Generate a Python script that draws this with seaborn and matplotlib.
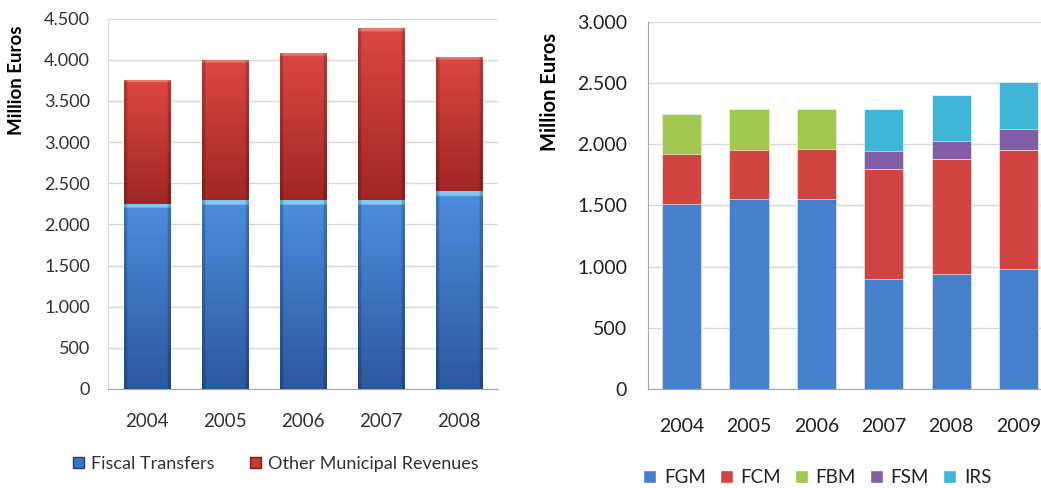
import numpy as np
import pandas as pd
import seaborn as sns
import matplotlib
matplotlib.use("Agg")
import matplotlib.pyplot as plt
from matplotlib.patches import Patch

# left chart data (million euros)
years_left = ["2004", "2005", "2006", "2007", "2008"]
fiscal_transfers = [2250, 2290, 2290, 2290, 2400]
other_revenues = [1510, 1710, 1795, 2100, 1635]

# right chart data (million euros)
years_right = ["2004", "2005", "2006", "2007", "2008", "2009"]
fgm = [1510, 1550, 1555, 900, 940, 980]
fcm = [410, 405, 410, 895, 940, 970]
fbm = [325, 335, 325, 0, 0, 0]
fsm = [0, 0, 0, 147, 147, 172]
irs = [0, 0, 0, 348, 373, 388]

left_ticks = [0, 500, 1000, 1500, 2000, 2500, 3000, 3500, 4000, 4500]
right_ticks = [0, 500, 1000, 1500, 2000, 2500, 3000]


def fmt(v):
    return f"{v:,}".replace(",", ".")


def shaded(top, bottom, hi, n=120, m=30):
    # vertical gradient with a bright rim on top and darker sides
    t = np.linspace(0, 1, n)[:, None]
    img = np.array(top)[None, :] * (1 - t) + np.array(bottom)[None, :] * t
    img = np.repeat(img[:, None, :], m, axis=1)
    img[:3] = np.array(hi)
    side = np.ones(m)
    side[:2] = 0.8
    side[-2:] = 0.8
    img = img * side[None, :, None]
    return np.clip(img / 255.0, 0, 1)


sns.set_style("white")
plt.rcParams["font.family"] = ["Lato", "DejaVu Sans"]
txt = "#333333"
grid = "#d9d9d9"
spine = "#a6a6a6"

fig = plt.figure(figsize=(10.41, 4.88), dpi=100)
ax1 = fig.add_axes([0.1037, 0.2029, 0.3746, 0.759])
ax2 = fig.add_axes([0.6225, 0.2029, 0.3881, 0.752])

# ---- left: fiscal transfers vs other revenues, shaded bars
df_l = pd.DataFrame({"year": years_left, "ft": fiscal_transfers, "other": other_revenues})
df_l["total"] = df_l["ft"] + df_l["other"]

layers = [
    ("total", "ft", "#c63a37", shaded((220, 72, 66), (160, 38, 38), (232, 120, 110)), 2),
    ("ft", None, "#3d73c4", shaded((76, 142, 222), (44, 88, 158), (130, 200, 245)), 4),
]
for col, base, color, img, z in layers:
    sns.barplot(data=df_l, x="year", y=col, color=color, width=0.59, ax=ax1,
                saturation=1, edgecolor="#7a1c1c" if base else "#1f3f73",
                linewidth=0.6, zorder=z)
    bars = ax1.containers[-1]
    for i, p in enumerate(bars):
        x0 = p.get_x()
        lo = df_l[base][i] if base else 0
        hi = p.get_height()
        im = ax1.imshow(img, extent=(x0, x0 + p.get_width(), lo, hi),
                        aspect="auto", zorder=z + 0.5, interpolation="bilinear")
        im.set_clip_path(p)

ax1.set_xlim(-0.5, len(years_left) - 0.5)
ax1.set_ylim(0, 4500)
ax1.set_yticks(left_ticks)
ax1.set_yticklabels([fmt(v) for v in left_ticks])
ax1.set_xlabel("")
ax1.set_ylabel("Million Euros", fontsize=13.5, fontweight="bold", color="black")
ax1.yaxis.set_label_coords(-0.213, 0.834)
ax1.tick_params(axis="y", length=0, pad=13, labelsize=13, labelcolor=txt)
ax1.tick_params(axis="x", length=0, pad=17, labelsize=13.5, labelcolor=txt)
ax1.yaxis.grid(True, color=grid, linewidth=1)
ax1.set_axisbelow(True)
for s in ["top", "right"]:
    ax1.spines[s].set_visible(False)
ax1.spines["left"].set_color(grid)
ax1.spines["bottom"].set_color(spine)

fig.legend(handles=[Patch(facecolor="#3d73c4", edgecolor="#1f3f73", label="Fiscal Transfers"),
                    Patch(facecolor="#c63a37", edgecolor="#7a1c1c", label="Other Municipal Revenues")],
           loc="center", bbox_to_anchor=(0.265, 0.049), ncol=2, frameon=False,
           fontsize=13, handlelength=0.6, handleheight=0.6, handletextpad=0.4,
           columnspacing=2.0, labelcolor=txt)

# ---- right: transfer components, plain stacked bars
df_r = pd.DataFrame({"year": years_right, "FGM": fgm, "FCM": fcm, "FBM": fbm,
                     "FSM": fsm, "IRS": irs})
series = ["FGM", "FCM", "FBM", "FSM", "IRS"]
colors = {"FGM": "#4680ca", "FCM": "#d04541", "FBM": "#a3c850",
          "FSM": "#805ea8", "IRS": "#3fb6d8"}
cum = df_r[series].cumsum(axis=1)
for k, name in enumerate(reversed(series)):
    sns.barplot(x=df_r["year"], y=cum[name], color=colors[name], width=0.58,
                ax=ax2, saturation=1, edgecolor="white", linewidth=0.4,
                zorder=2 + k)

ax2.set_xlim(-0.5, len(years_right) - 0.5)
ax2.set_ylim(0, 3000)
ax2.set_yticks(right_ticks)
ax2.set_yticklabels([fmt(v) for v in right_ticks])
ax2.set_xlabel("")
ax2.set_ylabel("Million Euros", fontsize=14.5, fontweight="bold", color="black")
ax2.yaxis.set_label_coords(-0.218, 0.809)
ax2.tick_params(axis="y", length=0, pad=15, labelsize=14, labelcolor="#222222")
ax2.tick_params(axis="x", length=0, pad=21, labelsize=14, labelcolor="#222222")
ax2.yaxis.grid(True, color=grid, linewidth=1)
ax2.set_axisbelow(True)
for s in ["top", "right"]:
    ax2.spines[s].set_visible(False)
ax2.spines["left"].set_color(spine)
ax2.spines["bottom"].set_color(spine)

fig.legend(handles=[Patch(facecolor=colors[s], label=s) for s in series],
           loc="center", bbox_to_anchor=(0.785, 0.0205), ncol=5, frameon=False,
           fontsize=13.5, handlelength=0.7, handleheight=0.7, handletextpad=0.4,
           columnspacing=0.75, labelcolor="#222222")

fig.savefig("out.png", dpi=100)
